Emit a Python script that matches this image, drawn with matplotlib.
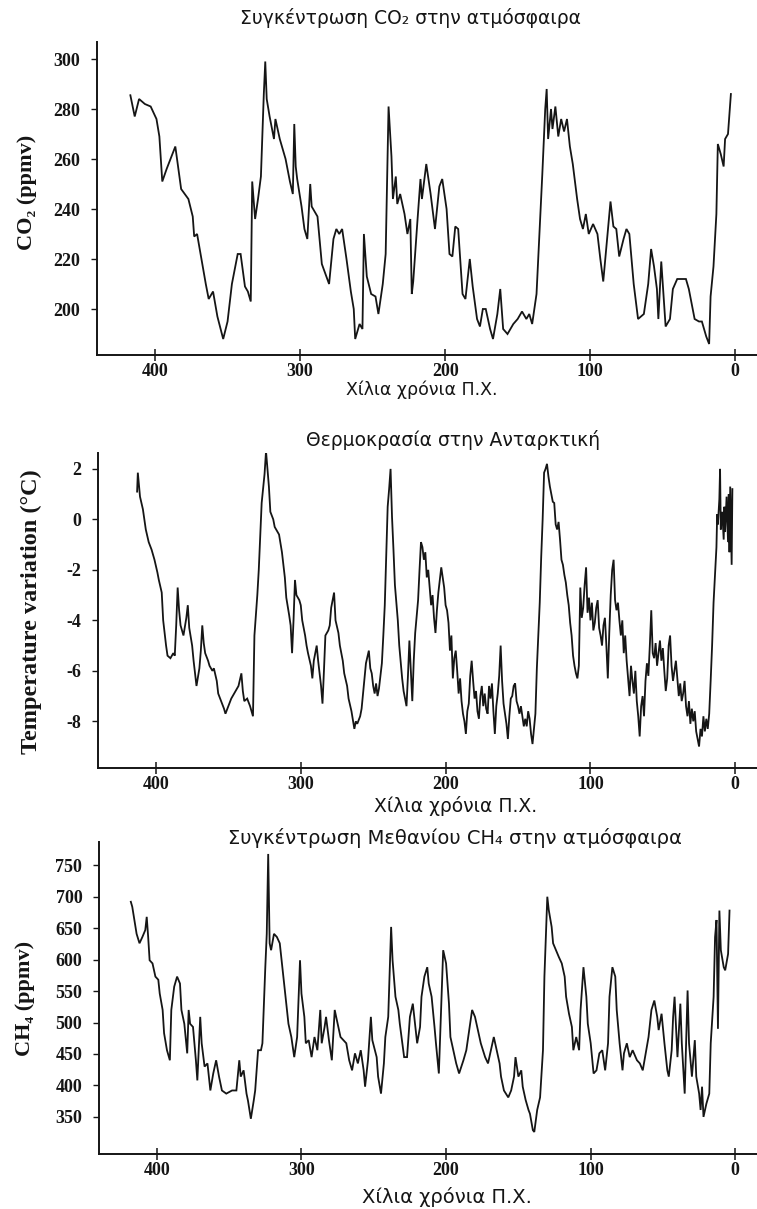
import matplotlib
matplotlib.use("Agg")
import matplotlib.pyplot as plt

plt.rcParams["axes.unicode_minus"] = False

# ---------------- data ----------------
co2_age = [417, 414, 411, 407, 403, 399, 397, 395, 392, 386, 382, 377, 374, 373, 371, 368, 365, 363, 360, 357,
           353, 350, 347, 343, 341, 338, 336, 334, 333, 331, 329, 327, 325, 324, 323, 321, 318, 317, 314, 310,
           307, 305, 304, 303, 302, 299, 297, 295, 293, 292, 288, 285, 280, 277, 275, 273, 271, 268, 265, 263,
           262, 259, 257, 256, 254, 251, 248, 246, 243, 241, 239, 237, 236, 234, 233, 231, 228, 226, 224, 223,
           222, 219, 217, 216, 213, 210, 207, 204, 202, 199, 197, 195, 193, 191, 188, 186, 183, 181, 178, 176,
           174, 172, 169, 167, 164, 162, 160, 157, 153, 150, 147, 144, 142, 140, 137, 135, 133, 131, 130, 129,
           127, 126, 124, 122, 120, 118, 116, 114, 112, 109, 107, 105, 103, 101, 98, 95, 93, 91, 88, 86,
           84, 82, 80, 77, 75, 73, 70, 67, 63, 60, 58, 56, 54, 53, 51, 48, 45, 43, 40, 34,
           32, 28, 25, 23, 20, 18, 17, 15, 13, 12, 10, 8, 7, 5, 3]
co2_ppmv = [285.5, 277, 284, 282, 281, 276, 269, 251, 256, 265, 248, 244, 237, 229, 230, 220, 210, 204, 207, 197,
            188, 195, 210, 222, 222, 209, 207, 203, 251, 236, 244, 253, 286, 299, 284, 277, 268, 276, 268, 260,
            251, 246, 274, 257, 252, 241, 232, 228, 250, 241, 237, 218, 210, 228, 232, 230, 232, 220, 207, 200,
            188, 194, 192, 230, 213, 206, 205, 198, 210, 222, 281, 261, 244, 253, 242, 246, 238, 230, 236, 206,
            211, 236, 252, 244, 258, 246, 232, 249, 252, 240, 222, 221, 233, 232, 206, 204, 220, 209, 196, 193,
            200, 200, 192, 188, 198, 208, 192, 190, 194, 196, 199, 196, 198, 194, 206, 230, 254, 280, 288, 268,
            280, 272, 281, 269, 276, 271, 276, 265, 258, 244, 236, 232, 238, 230, 234, 230, 220, 211, 230, 243,
            233, 232, 221, 228, 232, 230, 210, 196, 198, 210, 224, 217, 208, 196, 219, 193, 196, 208, 212, 212,
            208, 196, 195, 195, 189, 186, 205, 217, 238, 266, 262, 257, 268, 270, 286]

temp_age = [413, 412.5, 411, 409, 407, 405, 403, 401, 399, 398, 396, 395, 393, 392, 390, 388, 387, 386, 385, 384,
            383, 381, 379, 378, 377, 375, 374, 372, 370, 369, 368, 367, 366, 364, 363, 361, 360, 358, 357, 355,
            353, 352, 350, 348, 347, 345, 343, 341, 340, 339, 337, 335, 333, 332, 330, 329, 327, 325, 324, 323,
            322, 321, 319, 318, 316, 315, 313, 311, 310, 308, 307, 306, 305, 304, 303, 301, 300, 299, 297, 296,
            295, 293, 292, 291, 289, 288, 287, 286, 285, 284, 283, 281, 280, 279, 277, 276, 274, 273, 271, 270,
            268, 267, 265, 263, 262, 261, 259, 258, 256, 255, 253, 252, 251, 250, 249, 248, 247, 246, 244, 243,
            242, 241, 240, 239, 238, 237, 236, 235, 234, 233, 232, 230, 229, 227, 226, 225, 224, 223, 222, 221,
            219, 218, 217, 216, 215, 214, 213, 212, 210, 209, 208, 207, 206, 205, 204, 203, 202, 201, 200, 199,
            198, 197, 196, 195, 194, 193, 192, 191, 190, 189, 188, 187, 186, 185, 184, 183, 182, 181, 180, 179,
            178, 177, 176, 175, 174, 173, 172, 171, 170, 169, 168, 167, 166, 165, 164, 163, 162, 161, 160, 159,
            158, 157, 156, 155, 154, 153, 152, 151, 150, 149, 148, 147, 146, 145, 144, 143, 142, 141, 140, 139,
            138, 137, 136, 135, 134, 133, 132, 131, 130, 129, 128, 127, 126, 125, 124, 123, 122, 121, 120, 119,
            118, 117, 116, 115, 114, 113, 112, 111, 110, 109, 108, 107, 106, 105, 104, 103, 102, 101, 100, 99,
            98, 97, 96, 95, 94, 93, 92, 91, 90, 89, 88, 87, 86, 85, 84, 83, 82, 81, 80, 79,
            78, 77, 76, 75, 74, 73, 72, 71, 70, 69, 68, 67, 66, 65, 64, 63, 62, 61, 60, 59,
            58, 57, 56, 55, 54, 53, 52, 51, 50, 49, 48, 47, 46, 45, 44, 43, 42, 41, 40, 39,
            38, 37, 36, 35, 34, 33, 32, 31, 30, 29, 28, 27, 26, 25, 24, 23, 22, 21, 20, 19,
            18, 17, 16, 15, 14, 13, 12.5, 12, 11, 10.5, 10, 9, 8, 7.5, 7, 6, 5, 4.5, 4, 3.5,
            3, 2.5, 2]
temp_var = [1.1, 1.85, 0.9, 0.4, -0.4, -0.9, -1.2, -1.6, -2.1, -2.4, -2.9, -4.0, -5.0, -5.4, -5.5, -5.3, -5.4, -4.2, -2.7, -3.6,
            -4.2, -4.6, -3.9, -3.4, -4.3, -5.0, -5.6, -6.6, -5.9, -5.2, -4.2, -4.9, -5.3, -5.6, -5.8, -6.0, -5.9, -6.4, -6.9, -7.2,
            -7.5, -7.7, -7.4, -7.1, -7.0, -6.8, -6.6, -6.1, -6.8, -7.2, -7.1, -7.4, -7.8, -4.6, -3.0, -2.0, 0.65, 1.8, 2.7, 2.0,
            1.3, 0.3, 0.0, -0.3, -0.5, -0.6, -1.3, -2.3, -3.1, -3.8, -4.2, -5.3, -4.0, -2.4, -3.0, -3.2, -3.4, -4.0, -4.6, -5.0,
            -5.3, -5.8, -6.3, -5.6, -5.0, -5.6, -6.1, -6.6, -7.3, -6.0, -4.6, -4.4, -4.2, -3.5, -2.9, -4.0, -4.5, -5.0, -5.6, -6.1,
            -6.6, -7.1, -7.6, -8.3, -8.0, -8.1, -7.8, -7.5, -6.3, -5.7, -5.2, -5.9, -6.1, -6.6, -6.9, -6.5, -7.0, -6.7, -5.7, -4.6,
            -3.4, -1.5, 0.5, 1.2, 2.0, 0.1, -1.2, -2.6, -3.3, -4.0, -5.0, -6.3, -6.8, -7.4, -6.2, -4.8, -6.0, -7.2, -5.6, -4.5,
            -3.2, -2.0, -0.9, -1.1, -1.6, -1.3, -2.3, -2.0, -3.4, -3.0, -3.9, -4.5, -3.6, -2.9, -2.4, -1.9, -2.3, -2.7, -3.4, -3.6,
            -4.1, -5.2, -4.6, -6.3, -5.5, -5.2, -6.0, -6.9, -6.3, -7.2, -7.7, -8.0, -8.5, -7.6, -7.3, -6.2, -5.6, -6.4, -7.1, -6.8,
            -7.6, -7.9, -7.0, -6.6, -7.4, -6.9, -7.5, -7.7, -6.6, -7.1, -6.5, -7.6, -8.5, -7.4, -6.9, -6.2, -5.0, -6.4, -7.3, -7.7,
            -8.1, -8.7, -7.8, -7.1, -7.0, -6.6, -6.5, -7.2, -7.4, -7.7, -7.4, -7.8, -8.2, -7.9, -8.2, -7.6, -7.9, -8.5, -8.9, -8.3,
            -7.7, -5.9, -4.6, -3.3, -1.5, 0.0, 1.85, 2.0, 2.2, 1.7, 1.3, 1.0, 0.7, 0.65, -0.2, -0.4, -0.1, -0.8, -1.6, -1.8,
            -2.2, -2.5, -3.0, -3.4, -4.1, -4.6, -5.4, -5.8, -6.1, -6.3, -5.8, -2.7, -3.9, -3.5, -2.6, -1.9, -3.7, -3.1, -4.0, -3.3,
            -4.4, -4.1, -3.5, -3.2, -4.3, -4.6, -5.0, -4.2, -3.9, -5.0, -6.3, -4.5, -3.0, -2.0, -1.6, -3.2, -3.6, -3.3, -4.0, -4.6,
            -4.0, -5.3, -4.6, -5.6, -6.3, -7.0, -5.8, -6.4, -6.9, -6.0, -7.2, -7.8, -8.6, -7.4, -7.0, -7.8, -6.4, -5.7, -6.2, -5.0,
            -3.6, -5.3, -5.5, -4.9, -5.8, -5.3, -4.8, -5.6, -5.1, -6.0, -6.8, -6.3, -5.0, -4.6, -5.8, -6.4, -6.0, -5.6, -6.3, -7.0,
            -6.5, -7.2, -6.9, -6.4, -7.4, -7.8, -7.2, -8.1, -7.5, -8.0, -7.6, -8.4, -8.7, -9.0, -8.3, -8.6, -7.8, -8.4, -7.9, -8.3,
            -7.7, -6.4, -5.0, -3.3, -2.2, -1.1, 0.2, -0.2, 0.8, 2.0, -0.4, 0.3, -0.8, 0.5, -0.5, 0.9, -0.9, 1.0, -1.3, 1.3,
            -0.3, -1.8, 1.2]

ch4_age = [418, 417, 414, 412, 410, 408, 407, 406, 405, 403, 401, 399, 398, 396, 395, 393, 391, 390, 388, 386,
           384, 383, 381, 379, 378, 377, 375, 373, 372, 370, 369, 367, 365, 363, 361, 359, 357, 355, 352, 348,
           345, 343, 342, 340, 338, 337, 335, 333, 332, 330, 328, 327, 325, 324, 323, 322, 321, 319, 317, 315,
           313, 311, 309, 307, 305, 303, 301, 300, 298, 297, 295, 293, 291, 289, 287, 286, 284, 283, 281, 279,
           277, 276, 273, 271, 269, 267, 265, 263, 261, 259, 257, 256, 254, 252, 251, 248, 247, 245, 243, 242,
           240, 238, 237, 235, 233, 232, 229, 227, 225, 223, 222, 220, 218, 217, 215, 213, 212, 210, 208, 207,
           205, 203, 202, 200, 198, 197, 193, 191, 188, 186, 184, 182, 180, 178, 176, 173, 171, 168, 167, 165,
           163, 162, 160, 157, 155, 153, 152, 150, 148, 147, 145, 143, 142, 140, 139, 137, 136, 135, 133, 132,
           130, 129, 127, 126, 124, 122, 120, 118, 117, 115, 113, 112, 110, 108, 107, 105, 103, 102, 100, 98,
           96, 94, 92, 90, 88, 87, 85, 83, 82, 80, 78, 77, 75, 73, 71, 68, 66, 64, 62, 60,
           58, 56, 54, 53, 51, 49, 47, 46, 44, 43, 42, 40, 38, 37, 35, 33, 32, 30, 28, 27,
           25, 24, 23, 22, 20, 18, 17, 15, 14, 13, 12, 11, 10, 8, 7, 5, 4]
ch4_ppbv = [692, 684, 641, 626, 636, 647, 668, 636, 599, 594, 573, 568, 546, 520, 483, 456, 440, 520, 557, 573,
            562, 520, 498, 451, 520, 498, 493, 440, 408, 509, 467, 430, 435, 392, 419, 440, 414, 392, 387, 392,
            392, 440, 414, 424, 387, 376, 347, 376, 392, 456, 456, 467, 588, 641, 768, 626, 615, 641, 636, 626,
            583, 541, 498, 477, 445, 477, 599, 546, 509, 467, 472, 445, 477, 456, 520, 467, 493, 509, 472, 440,
            520, 509, 477, 472, 467, 440, 424, 451, 435, 456, 424, 398, 440, 509, 472, 445, 414, 387, 435, 477,
            509, 652, 599, 541, 520, 498, 445, 445, 509, 530, 509, 467, 493, 541, 573, 588, 562, 541, 493, 467,
            419, 551, 615, 594, 530, 477, 435, 419, 440, 456, 488, 520, 509, 488, 467, 445, 435, 467, 477, 456,
            435, 414, 392, 381, 392, 414, 445, 414, 424, 398, 377, 361, 355, 329, 326, 361, 371, 381, 456, 573,
            700, 679, 652, 626, 615, 604, 594, 573, 541, 514, 493, 456, 477, 456, 520, 588, 541, 498, 467, 419,
            424, 451, 456, 424, 467, 541, 588, 573, 520, 467, 424, 451, 467, 445, 456, 440, 435, 424, 451, 477,
            520, 535, 509, 488, 514, 467, 424, 414, 456, 509, 541, 445, 530, 467, 387, 551, 467, 414, 472, 414,
            387, 361, 398, 350, 371, 387, 467, 541, 636, 663, 490, 678, 615, 588, 583, 609, 678]

x_ticks = [400, 300, 200, 100, 0]
co2_ticks = [200, 220, 240, 260, 280, 300]
temp_ticks = [-8, -6, -4, -2, 0, 2]
ch4_ticks = [350, 400, 450, 500, 550, 600, 650, 700, 750]

titles = ["Συγκέντρωση CO₂ στην ατμόσφαιρα",
          "Θερμοκρασία στην Ανταρκτική",
          "Συγκέντρωση Μεθανίου CH₄ στην ατμόσφαιρα"]
ylabels = ["CO₂ (ppmv)", "Temperature variation (°C)", "CH₄ (ppmv)"]
xlabel = "Χίλια χρόνια Π.Χ."

# ---------------- figure ----------------
W, H = 757, 1209
fig = plt.figure(figsize=(W / 100, H / 100), dpi=100)
fig.patch.set_facecolor("white")

SANS = ["DejaVu Sans"]
SERIF = ["Liberation Serif", "DejaVu Serif"]


def fx(x):
    return x / W


def fy(y):
    return 1 - y / H


panels = [
    dict(left=97, top=42, bottom=355, ylim=(181.6, 306.8), ticks=co2_ticks,
         x=co2_age, y=co2_ppmv, title=(411, 18), tsize=13.5, xl=(422, 390), xsize=12.5,
         yl=(27, 192), ylsize=16),
    dict(left=98, top=453, bottom=768, ylim=(-9.85, 2.63), ticks=temp_ticks,
         x=temp_age, y=temp_var, title=(453, 440), tsize=13.5, xl=(456, 806), xsize=13.5,
         yl=(31, 612), ylsize=17.5),
    dict(left=99, top=842, bottom=1154, ylim=(291, 787), ticks=ch4_ticks,
         x=ch4_age, y=ch4_ppbv, title=(455, 838), tsize=14, xl=(447, 1197), xsize=14,
         yl=(25, 998), ylsize=16),
]

for i, p in enumerate(panels):
    ax = fig.add_axes([fx(p["left"]), fy(p["bottom"]), fx(W - p["left"]),
                       (p["bottom"] - p["top"]) / H])
    ax.plot(p["x"], p["y"], color="#151515", lw=1.3, solid_joinstyle="miter")
    ax.set_xlim(440, -15)
    ax.set_ylim(*p["ylim"])
    ax.set_xticks(x_ticks)
    ax.set_yticks(p["ticks"])
    for s in ("top", "right"):
        ax.spines[s].set_visible(False)
    for s in ("left", "bottom"):
        ax.spines[s].set_linewidth(1.4)
        ax.spines[s].set_color("#151515")
    ax.tick_params(axis="x", direction="inout", length=8, width=1.1, pad=1.5,
                   colors="#151515")
    ax.tick_params(axis="y", direction="out", length=4, width=1.0, pad=8,
                   colors="#151515")
    for lab in ax.get_xticklabels() + ax.get_yticklabels():
        lab.set_fontfamily(SERIF)
        lab.set_fontweight("bold")
        lab.set_fontsize(13)
    ax.set_facecolor("none")

    fig.text(fx(p["title"][0]), fy(p["title"][1]), titles[i], family=SANS,
             fontsize=p["tsize"], ha="center", va="center", color="#151515")
    fig.text(fx(p["xl"][0]), fy(p["xl"][1]), xlabel, family=SANS,
             fontsize=p["xsize"], ha="center", va="center", color="#151515")
    fig.text(fx(p["yl"][0]), fy(p["yl"][1]), ylabels[i], family=SERIF,
             fontweight="bold", fontsize=p["ylsize"], rotation=90,
             ha="center", va="center", color="#151515")

fig.savefig("out.png", dpi=100, facecolor="white")
